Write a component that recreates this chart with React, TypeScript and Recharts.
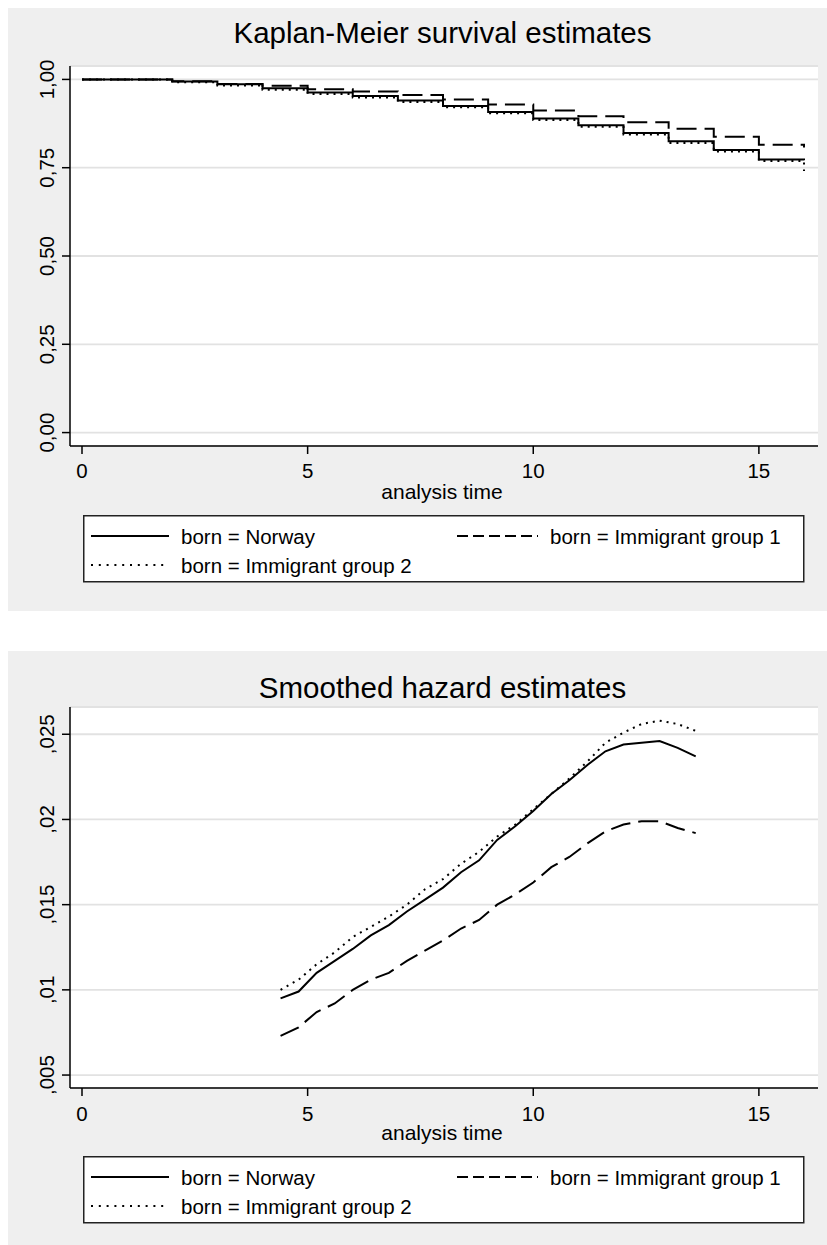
import { CartesianGrid, Line, LineChart, XAxis, YAxis } from "recharts";

// Kaplan-Meier step estimates
const kmTimes = [0, 2, 3, 4, 5, 6, 7, 8, 9, 10, 11, 12, 13, 14, 15, 16];
const kmNorway = [1.0, 0.994, 0.986, 0.975, 0.963, 0.953, 0.94, 0.925, 0.908, 0.889, 0.87, 0.848, 0.825, 0.8, 0.773, 0.771];
const kmGroup1 = [1.0, 0.995, 0.987, 0.982, 0.972, 0.966, 0.956, 0.943, 0.929, 0.912, 0.896, 0.879, 0.86, 0.838, 0.815, 0.807];
const kmGroup2 = [1.0, 0.992, 0.983, 0.971, 0.959, 0.949, 0.936, 0.921, 0.904, 0.885, 0.866, 0.844, 0.82, 0.796, 0.769, 0.741];

// smoothed hazard estimates
const hzTimes = [4.4, 4.8, 5.2, 5.6, 6.0, 6.4, 6.8, 7.2, 7.6, 8.0, 8.4, 8.8, 9.2, 9.6, 10.0, 10.4, 10.8, 11.2, 11.6, 12.0, 12.4, 12.8, 13.2, 13.6];
const hzNorway = [0.0095, 0.0099, 0.011, 0.0117, 0.0124, 0.0132, 0.0138, 0.0146, 0.0153, 0.016, 0.0169, 0.0176, 0.0188, 0.0196, 0.0205, 0.0215, 0.0223, 0.0232, 0.024, 0.0244, 0.0245, 0.0246, 0.0242, 0.0237];
const hzGroup1 = [0.0073, 0.0078, 0.0087, 0.0092, 0.01, 0.0106, 0.011, 0.0117, 0.0123, 0.0129, 0.0136, 0.0141, 0.015, 0.0156, 0.0163, 0.0172, 0.0178, 0.0186, 0.0193, 0.0197, 0.0199, 0.0199, 0.0195, 0.0192];
const hzGroup2 = [0.01, 0.0106, 0.0115, 0.0122, 0.0131, 0.0137, 0.0143, 0.015, 0.0159, 0.0165, 0.0174, 0.0181, 0.019, 0.0197, 0.0206, 0.0215, 0.0224, 0.0234, 0.0245, 0.0251, 0.0256, 0.0258, 0.0256, 0.0252];

const xTicks = [0, 5, 10, 15];
const kmYTicks = [0, 0.25, 0.5, 0.75, 1];
const hzYTicks = [0.005, 0.01, 0.015, 0.02, 0.025];
const hzYLabels = [",005", ",01", ",015", ",02", ",025"];

const legendLabels = ["born = Norway", "born = Immigrant group 1", "born = Immigrant group 2"];

const kmData = kmTimes.map((t, i) => ({ t, norway: kmNorway[i], g1: kmGroup1[i], g2: kmGroup2[i] }));
const hzData = hzTimes.map((t, i) => ({ t, norway: hzNorway[i], g1: hzGroup1[i], g2: hzGroup2[i] }));

const FONT = "'Liberation Sans', Arial, sans-serif";
const BG = "#efefef";

const fmtKM = (v: number) => v.toFixed(2).replace(".", ",");
const fmtHZ = (v: number) => hzYLabels[hzYTicks.indexOf(v)] ?? String(v);

function RotTick(props: any) {
  const { x, y, payload, fmt } = props;
  return (
    <text x={x} y={y} transform={`rotate(-90 ${x} ${y})`} textAnchor="middle" fontSize={20.5} fill="#000" fontFamily={FONT}>
      {fmt(payload.value)}
    </text>
  );
}

function LegendBox({ top }: { top: number }) {
  return (
    <svg width={722} height={68} style={{ position: "absolute", left: 75, top }}>
      <rect x={0.75} y={0.75} width={720} height={66} fill="#fff" stroke="#222" strokeWidth={1.5} />
      <line x1={8} x2={86} y1={21} y2={21} stroke="#000" strokeWidth={2} />
      <text x={98} y={21} dominantBaseline="central" fontSize={20.5} fontFamily={FONT}>{legendLabels[0]}</text>
      <line x1={374} x2={455} y1={21} y2={21} stroke="#000" strokeWidth={2} strokeDasharray="11 5" />
      <text x={467} y={21} dominantBaseline="central" fontSize={20.5} fontFamily={FONT}>{legendLabels[1]}</text>
      <line x1={8} x2={86} y1={50} y2={50} stroke="#000" strokeWidth={2} strokeDasharray="2 5.8" />
      <text x={98} y={50} dominantBaseline="central" fontSize={20.5} fontFamily={FONT}>{legendLabels[2]}</text>
    </svg>
  );
}

function Panel(props: {
  top: number; height: number; title: string; titleY: number; plotTop: number; plotBottom: number;
  data: any[]; yDomain: [number, number]; yTicks: number[]; fmt: (v: number) => string;
  lineType: "stepAfter" | "linear"; axisTitleY: number; legendTop: number; tickMargin: number;
}) {
  const { top, height, title, titleY, plotTop, plotBottom, data, yDomain, yTicks, fmt, lineType, axisTitleY, legendTop, tickMargin } = props;
  const xAxisH = 30;
  return (
    <div style={{ position: "absolute", left: 8, top, width: 819, height, background: BG, overflow: "hidden" }}>
      <div style={{ position: "absolute", left: 0, width: 869, top: titleY - 28, height: 36, lineHeight: "36px", textAlign: "center", fontFamily: FONT, fontSize: 29.5, color: "#000" }}>
        {title}
      </div>
      <LineChart width={819} height={height} data={data} margin={{ top: plotTop, right: 9, bottom: height - plotBottom - xAxisH, left: 0 }}>
        <CartesianGrid vertical={false} stroke="#e2e2e2" strokeWidth={1.8} fill="#ffffff" fillOpacity={1} />
        <XAxis
          type="number" dataKey="t" domain={[-0.266, 16.31]} ticks={xTicks} allowDataOverflow height={xAxisH}
          axisLine={{ stroke: "#000", strokeWidth: 1.5 }} tickLine={{ stroke: "#000", strokeWidth: 1.5 }}
          tickSize={8} tickMargin={tickMargin} tick={{ fontSize: 20.5, fill: "#000", fontFamily: FONT }}
        />
        <YAxis
          type="number" domain={yDomain} ticks={yTicks} allowDataOverflow width={62}
          axisLine={{ stroke: "#000", strokeWidth: 1.5 }} tickLine={{ stroke: "#000", strokeWidth: 1.5 }}
          tickSize={8} tickMargin={8} tick={(p: any) => <RotTick {...p} fmt={fmt} />}
        />
        <Line type={lineType} dataKey="g1" stroke="#000" strokeWidth={2} strokeDasharray="20 8" dot={false} isAnimationActive={false} />
        <Line type={lineType} dataKey="g2" stroke="#000" strokeWidth={2} strokeDasharray="2 5" dot={false} isAnimationActive={false} />
        <Line type={lineType} dataKey="norway" stroke="#000" strokeWidth={2} dot={false} isAnimationActive={false} />
      </LineChart>
      <div style={{ position: "absolute", left: 0, width: 868, top: axisTitleY - 15, height: 30, lineHeight: "30px", textAlign: "center", fontFamily: FONT, fontSize: 21, color: "#000" }}>
        analysis time
      </div>
      <LegendBox top={legendTop} />
    </div>
  );
}

export default function App() {
  return (
    <div style={{ position: "absolute", left: 0, top: 0, width: 827, height: 1245, background: "#fff", overflow: "hidden" }}>
      <Panel
        top={8} height={603} title="Kaplan-Meier survival estimates" titleY={35} plotTop={58} plotBottom={438}
        data={kmData} yDomain={[-0.038, 1.038]} yTicks={kmYTicks} fmt={fmtKM} lineType="stepAfter"
        axisTitleY={484} legendTop={507} tickMargin={9}
      />
      <Panel
        top={651} height={594} title="Smoothed hazard estimates" titleY={47} plotTop={56} plotBottom={437}
        data={hzData} yDomain={[0.00424, 0.0266]} yTicks={hzYTicks} fmt={fmtHZ} lineType="linear"
        axisTitleY={482} legendTop={505} tickMargin={10}
      />
    </div>
  );
}
